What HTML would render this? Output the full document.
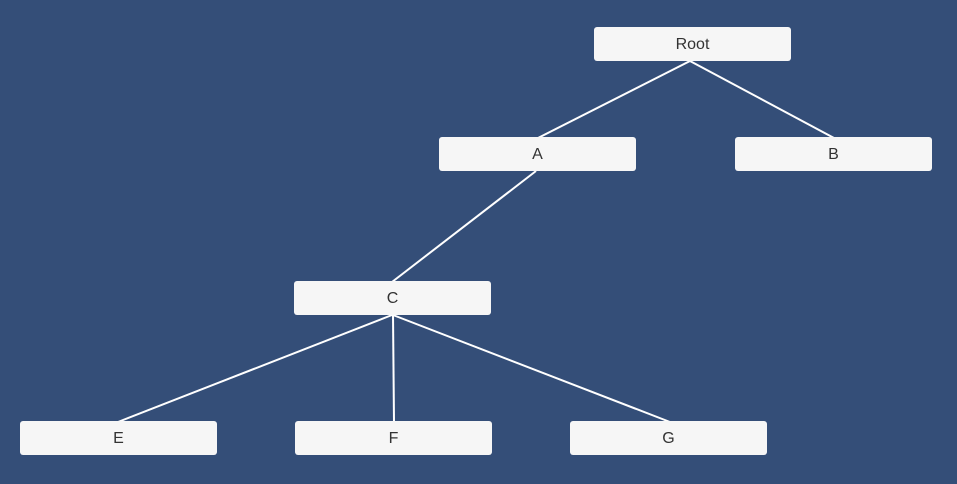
<!DOCTYPE html>
<html><head><style>
html,body{margin:0;padding:0;}
body{width:957px;height:484px;background:#344e78;position:relative;overflow:hidden;font-family:"Liberation Sans",sans-serif;}
.n{position:absolute;width:197px;height:34px;background:#f6f6f6;border-radius:3px;color:#333;font-size:16px;line-height:36px;text-align:center;}
svg{position:absolute;left:0;top:0;}
</style></head><body>
<svg width="957" height="484"><g stroke="#fff" stroke-width="2" fill="none">
<line x1="690" y1="61" x2="538" y2="138"/>
<line x1="690" y1="61" x2="834" y2="138"/>
<line x1="536" y1="171" x2="392" y2="282"/>
<line x1="392" y1="315" x2="118" y2="422"/>
<line x1="393" y1="315" x2="394" y2="422"/>
<line x1="393" y1="315" x2="670" y2="422"/>
</g></svg>
<div class="n" style="left:594px;top:27px;">Root</div>
<div class="n" style="left:439px;top:137px;">A</div>
<div class="n" style="left:735px;top:137px;">B</div>
<div class="n" style="left:294px;top:281px;">C</div>
<div class="n" style="left:20px;top:421px;">E</div>
<div class="n" style="left:295px;top:421px;">F</div>
<div class="n" style="left:570px;top:421px;">G</div>
</body></html>
